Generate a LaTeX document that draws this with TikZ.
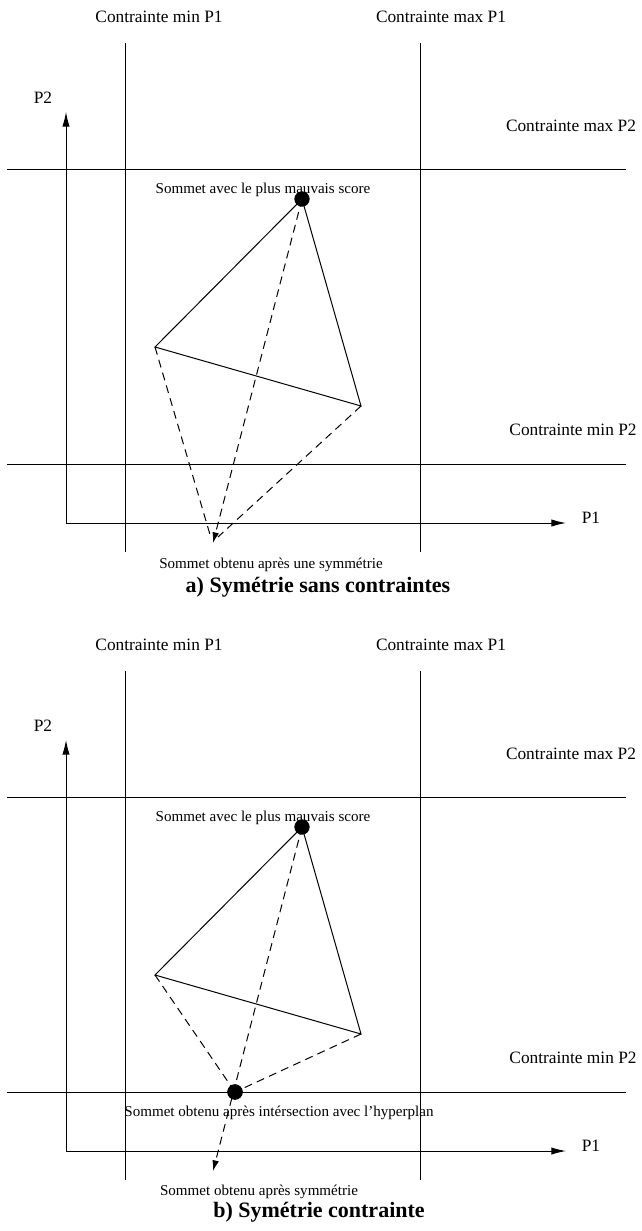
\documentclass[tikz,border=0pt]{standalone}
\usepackage{fontspec}
\setmainfont{Liberation Serif}
\usetikzlibrary{arrows.meta}
\begin{document}
\begin{tikzpicture}[x=0.75pt,y=-0.75pt,
  lbl/.style={font=\fontsize{13}{15}\selectfont, inner sep=0},
  small/.style={font=\fontsize{11.3}{13}\selectfont, inner sep=0},
  captxt/.style={font=\fontsize{16.5}{18}\selectfont\bfseries, inner sep=0},
  cline/.style={line width=0.75pt},
  axis/.style={line width=0.75pt, -{Latex[length=11pt,width=5.5pt]}},
  dsh/.style={line width=0.75pt, dash pattern=on 6pt off 4pt},
  tip/.style={-{Latex[length=8pt,width=5pt]}},
  dot/.style={circle, fill=black, inner sep=0, minimum size=11.5pt}]
\useasboundingbox (0,0) rectangle (642,1231);

\foreach \p/\dy in {a/0, b/628}{
\begin{scope}[shift={(0,\dy)}]
  % constraint lines
  \coordinate (\p-v1t) at (125,43);  \coordinate (\p-v1b) at (125,552);
  \coordinate (\p-v2t) at (420,43);  \coordinate (\p-v2b) at (420,552);
  \coordinate (\p-h1l) at (7,169);   \coordinate (\p-h1r) at (626,169);
  \coordinate (\p-h2l) at (7,464);   \coordinate (\p-h2r) at (626,464);
  \draw[cline] (\p-v1t) -- (\p-v1b);
  \draw[cline] (\p-v2t) -- (\p-v2b);
  \draw[cline] (\p-h1l) -- (\p-h1r);
  \draw[cline] (\p-h2l) -- (\p-h2r);
  % axes
  \coordinate (\p-o) at (66,523);
  \coordinate (\p-ytip) at (66,112);
  \coordinate (\p-xtip) at (566,523);
  \draw[axis] (\p-o) -- (\p-ytip);
  \draw[axis] (\p-o) -- (\p-xtip);
  % labels
  \node[lbl] (\p-lminP1) at (159,17) {Contrainte min P1};
  \node[lbl] (\p-lmaxP1) at (441,17) {Contrainte max P1};
  \node[lbl] (\p-lP2) at (43,98) {P2};
  \node[lbl] (\p-lmaxP2) at (571,126) {Contrainte max P2};
  \node[lbl] (\p-lminP2) at (573,430) {Contrainte min P2};
  \node[lbl] (\p-lP1) at (591,518) {P1};
  % simplex
  \node[dot] (\p-top) at (302,199) {};
  \coordinate (\p-left) at (155,347);
  \coordinate (\p-right) at (361,406);
  \draw[cline] (\p-top.center) -- (\p-left) -- (\p-right) -- (\p-top.center);
  \node[small] (\p-lworst) at (263,190) {Sommet avec le plus mauvais score};
  \coordinate (\p-refl) at (213,543);
\end{scope}
}

% panel a
\draw[dsh] (a-left) -- ([shift={(-2,-5)}]a-refl);
\draw[dsh] (a-right) -- ([shift={(5,-6)}]a-refl);
\draw[dsh,tip] (a-top.center) -- (a-refl);
\node[small] (a-lrefl) at (271,565) {Sommet obtenu après une symmétrie};
\node[captxt] (a-cap) at (318,587) {a) Symétrie sans contraintes};

% panel b
\node[dot] (b-inter) at (235,1092) {};
\draw[dsh] (b-left) -- (b-inter.center);
\draw[dsh] (b-right) -- (b-inter.center);
\draw[dsh,tip] (b-top.center) -- (b-refl);
\node[dot] at (b-inter) {};
\node[small] (b-linter) at (279,1113) {Sommet obtenu après intérsection avec l'hyperplan};
\node[small] (b-lrefl) at (259,1192) {Sommet obtenu après symmétrie};
\node[captxt] (b-cap) at (319,1212) {b) Symétrie contrainte};
\end{tikzpicture}
\end{document}
